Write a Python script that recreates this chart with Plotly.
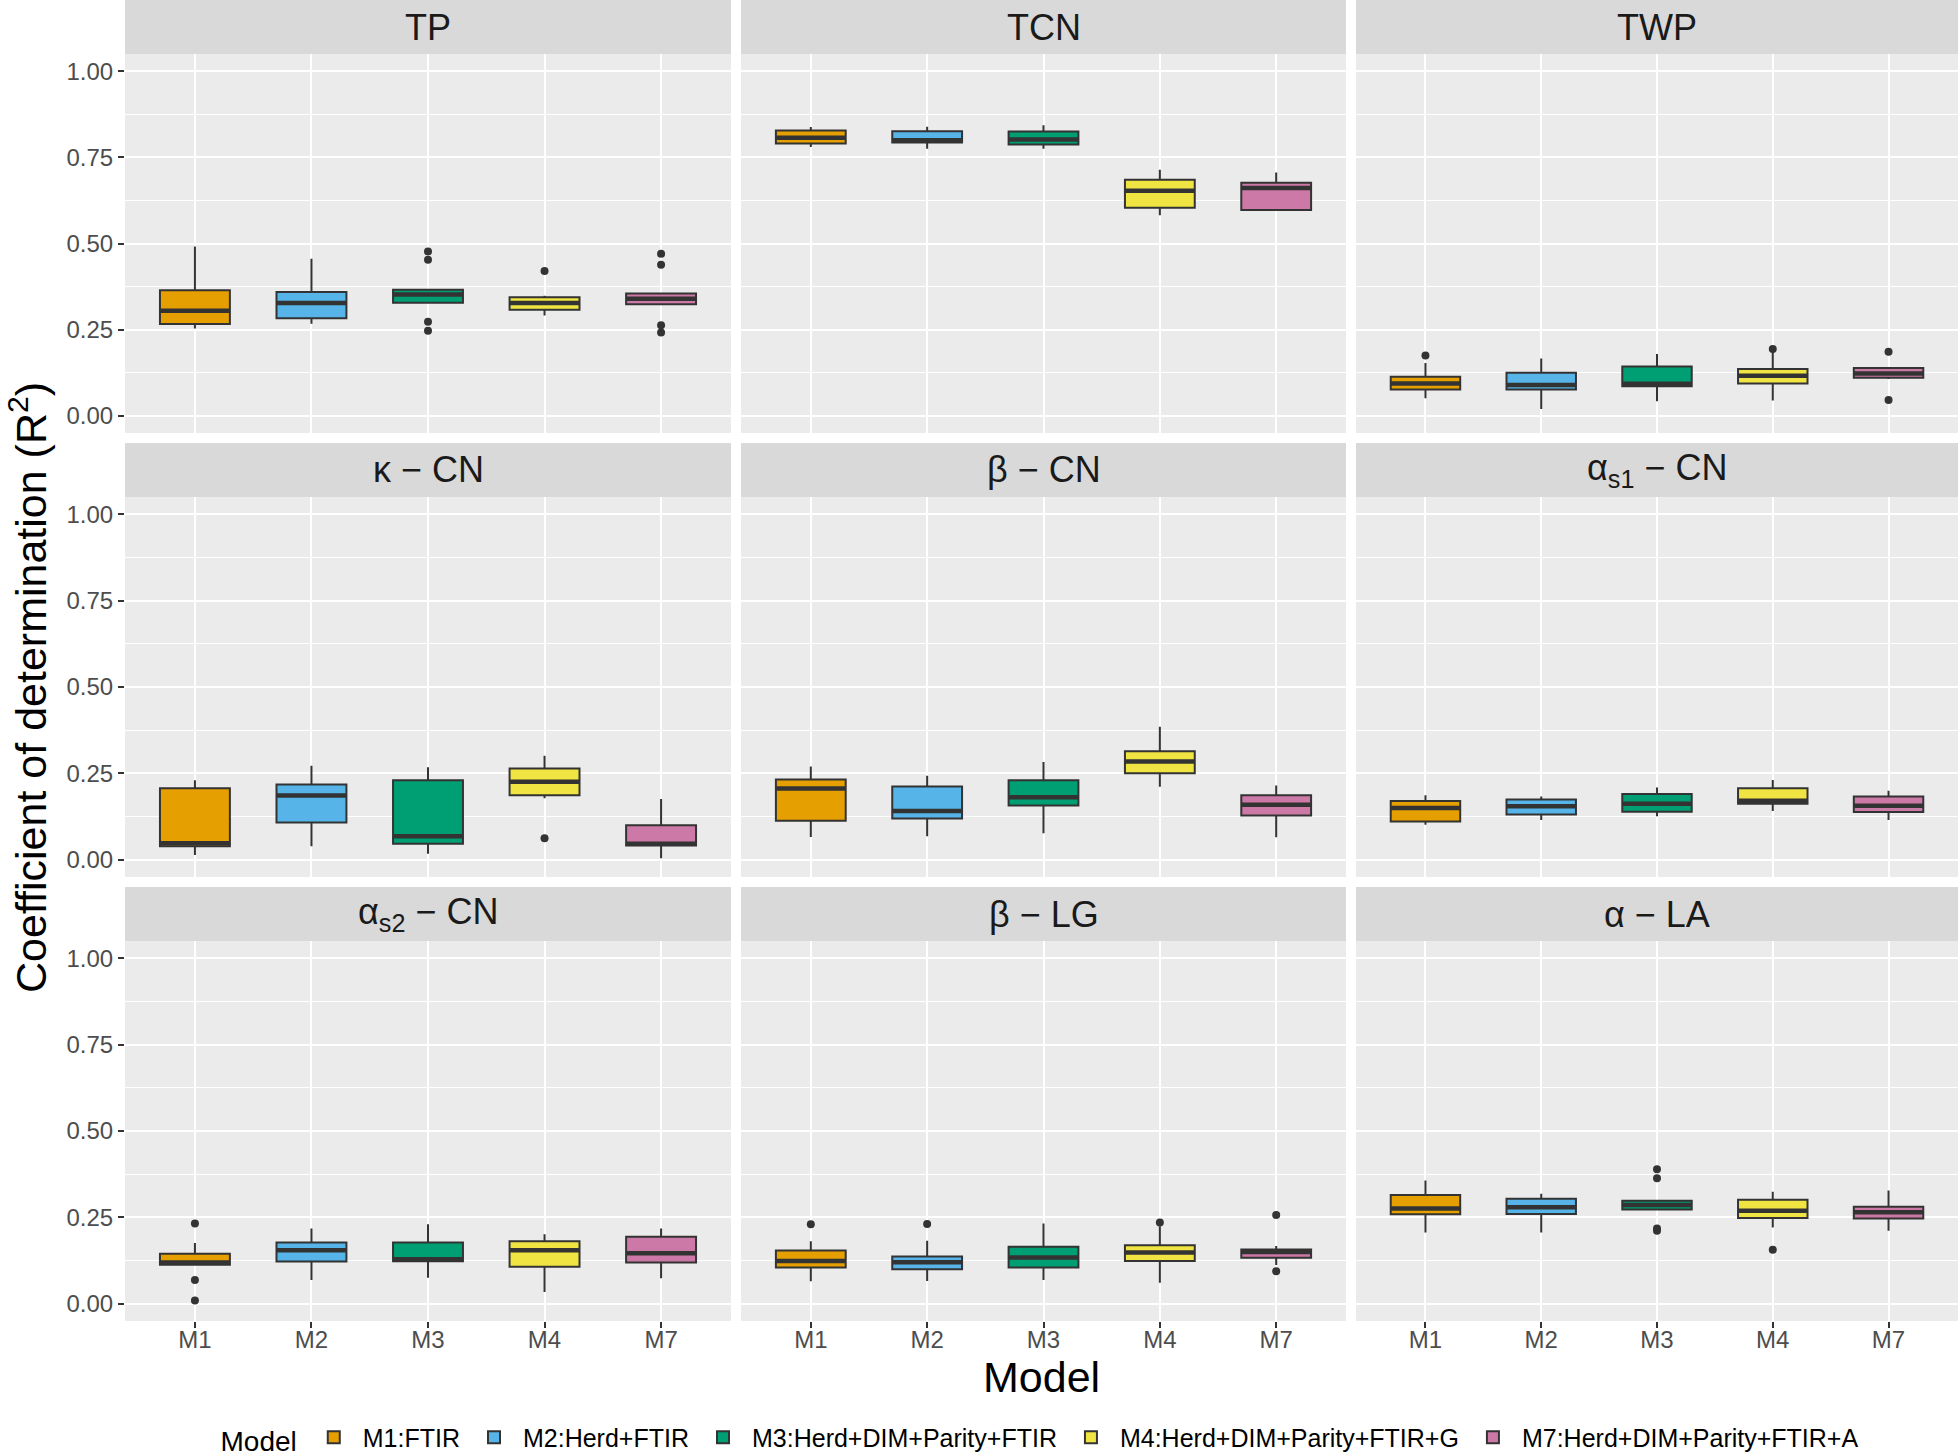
import plotly.graph_objects as go

# facet panels and models
PANELS = ["TP", "TCN", "TWP",
          "κ − CN", "β − CN", "α<sub>s1</sub> − CN",
          "α<sub>s2</sub> − CN", "β − LG", "α − LA"]
MODELS = ["M1", "M2", "M3", "M4", "M7"]
LEGEND_NAMES = ["M1:FTIR", "M2:Herd+FTIR", "M3:Herd+DIM+Parity+FTIR",
                "M4:Herd+DIM+Parity+FTIR+G", "M7:Herd+DIM+Parity+FTIR+A"]
COLORS = ["#E69F00", "#56B4E9", "#009E73", "#F0E442", "#CC79A7"]

# box statistics per panel (rows) and model (columns)
Q1 = [
    [0.266, 0.283, 0.328, 0.308, 0.324],
    [0.790, 0.793, 0.787, 0.604, 0.597],
    [0.076, 0.076, 0.086, 0.094, 0.110],
    [0.039, 0.108, 0.046, 0.187, 0.041],
    [0.113, 0.119, 0.157, 0.250, 0.128],
    [0.111, 0.131, 0.139, 0.162, 0.138],
    [0.113, 0.122, 0.123, 0.107, 0.119],
    [0.105, 0.100, 0.105, 0.124, 0.133],
    [0.259, 0.260, 0.273, 0.248, 0.247],
]
MEDIAN = [
    [0.305, 0.327, 0.352, 0.327, 0.340],
    [0.807, 0.800, 0.802, 0.653, 0.661],
    [0.094, 0.089, 0.093, 0.116, 0.123],
    [0.048, 0.186, 0.068, 0.226, 0.046],
    [0.206, 0.141, 0.181, 0.284, 0.159],
    [0.150, 0.155, 0.162, 0.171, 0.156],
    [0.119, 0.155, 0.129, 0.155, 0.146],
    [0.124, 0.120, 0.134, 0.148, 0.150],
    [0.276, 0.279, 0.286, 0.269, 0.265],
]
Q3 = [
    [0.364, 0.359, 0.366, 0.344, 0.355],
    [0.828, 0.826, 0.825, 0.685, 0.676],
    [0.113, 0.125, 0.143, 0.136, 0.139],
    [0.207, 0.218, 0.230, 0.264, 0.100],
    [0.232, 0.212, 0.230, 0.314, 0.187],
    [0.170, 0.174, 0.190, 0.207, 0.183],
    [0.145, 0.177, 0.177, 0.181, 0.194],
    [0.154, 0.137, 0.165, 0.169, 0.157],
    [0.315, 0.304, 0.298, 0.301, 0.281],
]
LOWER = [
    [0.253, 0.267, 0.327, 0.291, 0.322],
    [0.780, 0.775, 0.775, 0.582, 0.595],
    [0.051, 0.020, 0.042, 0.044, 0.107],
    [0.014, 0.039, 0.017, 0.178, 0.004],
    [0.066, 0.068, 0.077, 0.211, 0.065],
    [0.101, 0.115, 0.126, 0.141, 0.115],
    [0.112, 0.069, 0.075, 0.034, 0.074],
    [0.065, 0.066, 0.069, 0.061, 0.112],
    [0.206, 0.206, 0.271, 0.221, 0.211],
]
UPPER = [
    [0.491, 0.456, 0.368, 0.348, 0.357],
    [0.838, 0.839, 0.843, 0.714, 0.706],
    [0.153, 0.166, 0.179, 0.185, 0.141],
    [0.230, 0.272, 0.268, 0.301, 0.176],
    [0.270, 0.243, 0.283, 0.385, 0.215],
    [0.187, 0.183, 0.209, 0.231, 0.200],
    [0.176, 0.218, 0.230, 0.201, 0.218],
    [0.181, 0.182, 0.232, 0.224, 0.167],
    [0.357, 0.318, 0.300, 0.324, 0.328],
]
OUTLIERS = [
    [[], [], [0.477, 0.453, 0.273, 0.247], [0.420], [0.470, 0.438, 0.263, 0.242]],
    [[], [], [], [], []],
    [[0.175], [], [], [0.194], [0.186, 0.046]],
    [[], [], [], [0.062], []],
    [[], [], [], [], []],
    [[], [], [], [], []],
    [[0.232, 0.069, 0.009], [], [], [], []],
    [[0.230], [0.231], [], [0.235], [0.257, 0.094]],
    [[], [], [0.389, 0.363, 0.218, 0.211], [0.156], []],
]
Y_TICKS = [0.0, 0.25, 0.5, 0.75, 1.0]

W, H = 1960, 1456
COLS_PX = [(125, 731), (741, 1346), (1356, 1958)]
ROWS_PX = [(54, 433), (497, 877), (941, 1321)]
STRIPS_PX = [(0, 54), (443, 497), (887, 941)]
BOX_W = 0.6
DARK = "#333333"

fig = go.Figure()

for p, panel in enumerate(PANELS):
    r, c = divmod(p, 3)
    n = p + 1
    xa = "x" if n == 1 else f"x{n}"
    ya = "y" if n == 1 else f"y{n}"
    pos = list(range(1, len(MODELS) + 1))
    for m in range(len(MODELS)):
        fig.add_trace(go.Box(
            x=[pos[m]], q1=[Q1[p][m]], median=[MEDIAN[p][m]], q3=[Q3[p][m]],
            lowerfence=[LOWER[p][m]], upperfence=[UPPER[p][m]],
            width=BOX_W, whiskerwidth=0, boxpoints=False,
            fillcolor=COLORS[m], line=dict(color=DARK, width=2),
            name=LEGEND_NAMES[m], legendgroup=MODELS[m], showlegend=(p == 0),
            xaxis=xa, yaxis=ya, hoverinfo="skip",
        ))
        # thicker median bar like ggplot
        fig.add_trace(go.Scatter(
            x=[pos[m] - BOX_W / 2, pos[m] + BOX_W / 2],
            y=[MEDIAN[p][m], MEDIAN[p][m]],
            mode="lines", line=dict(color=DARK, width=4.5),
            showlegend=False, xaxis=xa, yaxis=ya, hoverinfo="skip",
        ))
        if OUTLIERS[p][m]:
            fig.add_trace(go.Scatter(
                x=[pos[m]] * len(OUTLIERS[p][m]), y=OUTLIERS[p][m],
                mode="markers", marker=dict(color=DARK, size=8),
                showlegend=False, xaxis=xa, yaxis=ya, hoverinfo="skip",
            ))

    x0, x1 = COLS_PX[c]
    y0, y1 = ROWS_PX[r]
    xkey = "xaxis" if n == 1 else f"xaxis{n}"
    ykey = "yaxis" if n == 1 else f"yaxis{n}"
    fig.update_layout(**{
        xkey: dict(
            domain=[x0 / W, x1 / W], anchor=ya, range=[0.4, 5.6],
            tickmode="array", tickvals=pos, ticktext=MODELS,
            showticklabels=(r == 2), ticks="outside" if r == 2 else "",
            ticklen=6, tickwidth=2, tickcolor=DARK, ticklabelstandoff=-9,
            tickfont=dict(size=24, color="#4D4D4D"),
            showgrid=True, gridcolor="white", gridwidth=2.2,
            zeroline=False, showline=False, fixedrange=True,
        ),
        ykey: dict(
            domain=[1 - y1 / H, 1 - y0 / H], anchor=xa, range=[-0.05, 1.05],
            tickmode="array", tickvals=Y_TICKS,
            ticktext=[f"{v:.2f}" for v in Y_TICKS],
            showticklabels=(c == 0), ticks="outside" if c == 0 else "",
            ticklen=6, tickwidth=2, tickcolor=DARK,
            tickfont=dict(size=24, color="#4D4D4D"),
            showgrid=True, gridcolor="white", gridwidth=2.2,
            minor=dict(tickmode="linear", tick0=0, dtick=0.125,
                       showgrid=True, gridcolor="white", gridwidth=1.1),
            zeroline=False, showline=False, fixedrange=True,
        ),
    })

    # facet strip
    s0, s1 = STRIPS_PX[r]
    fig.add_shape(type="rect", xref="paper", yref="paper",
                  x0=x0 / W, x1=x1 / W, y0=1 - s1 / H, y1=1 - s0 / H,
                  fillcolor="#D9D9D9", line=dict(width=0), layer="below")
    fig.add_annotation(text=panel, xref="paper", yref="paper",
                       x=(x0 + x1) / 2 / W, y=1 - (s0 + s1) / 2 / H,
                       showarrow=False, font=dict(size=36, color="#1A1A1A"),
                       xanchor="center", yanchor="middle")

# axis titles
fig.add_annotation(text="Coefficient of determination (R<sup>2</sup>)",
                   xref="paper", yref="paper", x=28 / W, y=1 - 688 / H,
                   textangle=-90, showarrow=False,
                   font=dict(size=43, color="black"),
                   xanchor="center", yanchor="middle")
fig.add_annotation(text="Model", xref="paper", yref="paper",
                   x=1041 / W, y=1 - 1377 / H, showarrow=False,
                   font=dict(size=43, color="black"),
                   xanchor="center", yanchor="middle")

fig.update_layout(
    width=W, height=H,
    margin=dict(l=0, r=0, t=0, b=0, autoexpand=False),
    paper_bgcolor="white", plot_bgcolor="#EBEBEB",
    font=dict(family="Liberation Sans, Arial, sans-serif"),
    boxmode="overlay",
    legend=dict(
        orientation="h", x=1041 / W, xanchor="center",
        y=1 - 1438 / H, yanchor="middle",
        title=dict(text="Model", side="left", font=dict(size=28, color="black")),
        font=dict(size=25, color="black"),
        bgcolor="rgba(0,0,0,0)", itemwidth=48, tracegroupgap=0,
    ),
)

# drop the default page margin so the figure sits at the window corner
fig.write_html("out.html", config={"displayModeBar": False},
               post_script="document.body.style.margin='0px';")
